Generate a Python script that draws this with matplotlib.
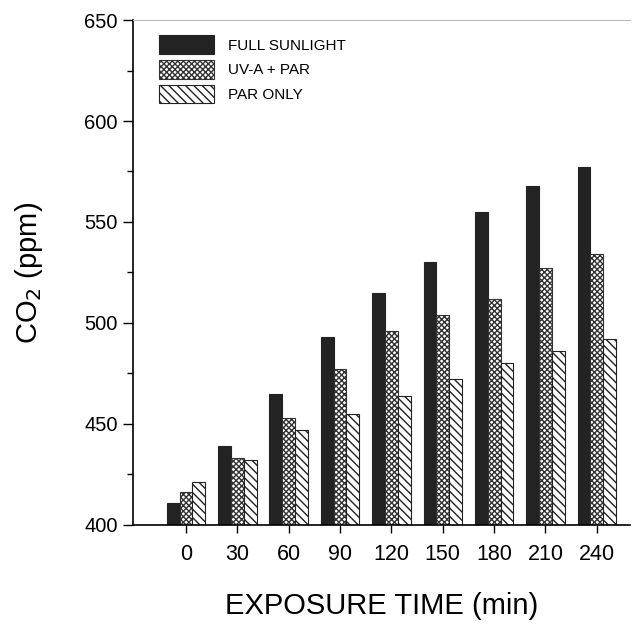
import matplotlib
matplotlib.use("Agg")
import matplotlib.pyplot as plt
import numpy as np
from matplotlib.ticker import MultipleLocator

plt.rcParams['font.family'] = ['Liberation Sans', 'DejaVu Sans']
plt.rcParams['hatch.linewidth'] = 1.0

times = ["0", "30", "60", "90", "120", "150", "180", "210", "240"]
full_sunlight = [411, 439, 465, 493, 515, 530, 555, 568, 577]
uva_par = [416, 433, 453, 477, 496, 504, 512, 527, 534]
par_only = [421, 432, 447, 455, 464, 472, 480, 486, 492]
series_labels = ["FULL SUNLIGHT", "UV-A + PAR", "PAR ONLY"]

fig = plt.figure(figsize=(6.34, 6.27), dpi=100)
ax = fig.add_axes([0.21, 0.163, 0.784, 0.805])

x = np.arange(len(times))
w = 0.25
ax.bar(x - w, np.array(full_sunlight) - 400, w, bottom=400, color='#232323',
       edgecolor='#232323', linewidth=0.8, label=series_labels[0])
ax.bar(x, np.array(uva_par) - 400, w, bottom=400, color='white',
       edgecolor='#333333', hatch='xxxxxx', linewidth=0.8, label=series_labels[1])
ax.bar(x + w, np.array(par_only) - 400, w, bottom=400, color='white',
       edgecolor='#222222', hatch='\\\\\\\\', linewidth=0.8, label=series_labels[2])

ax.set_ylim(400, 650)
ax.set_xlim(-1.03, 8.65)
ax.set_xticks(x)
ax.set_xticklabels(times, fontsize=15.5)
ax.yaxis.set_major_locator(MultipleLocator(50))
ax.yaxis.set_minor_locator(MultipleLocator(25))
ax.tick_params(axis='y', which='major', length=7, width=1, labelsize=14.5, pad=4)
ax.tick_params(axis='y', which='minor', length=4, width=1)
ax.tick_params(axis='x', which='major', length=6, width=1, pad=8)

ax.spines['right'].set_visible(False)
ax.spines['top'].set_color('#bbbbbb')
ax.spines['top'].set_linewidth(0.8)
ax.spines['left'].set_linewidth(1.2)
ax.spines['bottom'].set_linewidth(1.2)

ax.set_ylabel("CO$_2$ (ppm)", fontsize=21, labelpad=28)
ax.set_xlabel("EXPOSURE TIME (min)", fontsize=21, labelpad=19)

leg = ax.legend(loc='upper left', bbox_to_anchor=(0.025, 0.997), frameon=False,
                fontsize=11, handlelength=3.6, handleheight=1.5,
                handletextpad=0.9, labelspacing=0.4)

fig.savefig("out.png", dpi=100)
